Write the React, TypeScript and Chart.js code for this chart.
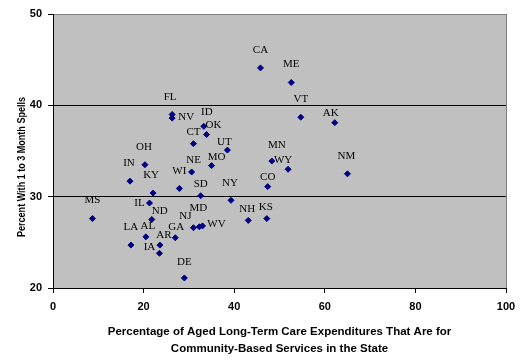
import React, { useEffect, useRef } from 'react';
import { Chart, registerables } from 'chart.js';

Chart.register(...registerables);

// ---- data ----
const states = [
  'CA', 'ME', 'VT', 'AK', 'FL', 'NV', 'ID', 'OK', 'CT', 'UT', 'MN', 'WY',
  'NM', 'CO', 'NY', 'NH', 'KS', 'OH', 'IN', 'KY', 'WI', 'NE', 'MO', 'SD',
  'IL', 'MS', 'ND', 'NJ', 'MD', 'WV', 'LA', 'AL', 'AR', 'GA', 'IA', 'DE',
];
const communityShare = [
  45.8, 52.6, 54.7, 62.2, 26.3, 26.3, 33.3, 33.9, 31.0, 38.5, 48.3, 51.9,
  65.0, 47.4, 39.3, 43.1, 47.2, 20.3, 17.0, 22.1, 27.9, 30.6, 35.0, 32.6,
  21.3, 8.7, 21.8, 31.0, 32.3, 33.0, 17.2, 20.5, 23.6, 27.0, 23.5, 29.0,
];
const shortSpellPercent = [
  44.1, 42.5, 38.7, 38.1, 39.0, 38.6, 37.7, 36.8, 35.8, 35.1, 33.9, 33.0,
  32.5, 31.1, 29.6, 27.4, 27.6, 33.5, 31.7, 30.4, 30.9, 32.7, 33.4, 30.1,
  29.3, 27.6, 27.5, 26.6, 26.7, 26.8, 24.7, 25.6, 24.7, 25.5, 23.8, 21.1,
];
const xTickValues = [0, 20, 40, 60, 80, 100];
const yTickValues = [20, 30, 40, 50];
const xTitle = [
  'Percentage of Aged Long-Term Care Expenditures That Are for',
  'Community-Based Services in the State',
];
const yTitle = 'Percent With 1 to 3 Month Spells';

// ---- label placement (pixel offsets of each state label from its marker) ----
const labelOffsets: Record<string, [number, number]> = {
  CA: [0, -18], ME: [0, -18], VT: [0, -18], AK: [-4, -10], FL: [-2, -17],
  NV: [14, -1], ID: [3, -14], OK: [7, -9], CT: [0, -12], UT: [-3, -8],
  MN: [5, -16], WY: [-5, -9], NM: [-1, -18], CO: [0, -10], NY: [-1, -17],
  NH: [-1, -11], KS: [-1, -11], OH: [-1, -18], IN: [-1, -18], KY: [-2, -18],
  WI: [0, -17], NE: [2, -12], MO: [5, -9], SD: [0, -12], IL: [-10, 0],
  MS: [0, -18], ND: [8, -8], NJ: [-8, -12], MD: [-1, -19], WV: [14, -2],
  LA: [0, -18], AL: [2, -11], AR: [4, -10], GA: [1, -11], IA: [-10, -6],
  DE: [0, -16],
};

const SANS = "'Liberation Sans Narrow', 'Arial Narrow', 'Liberation Sans', Arial, sans-serif";
const SERIF = "'Liberation Serif', 'Times New Roman', serif";

const backgroundPlugin = {
  id: 'bgFill',
  beforeDraw(chart: any) {
    const { ctx, chartArea, width, height } = chart;
    ctx.save();
    ctx.fillStyle = '#ffffff';
    ctx.fillRect(0, 0, width, height);
    ctx.fillStyle = '#c0c0c0';
    ctx.fillRect(chartArea.left, chartArea.top, chartArea.right - chartArea.left, chartArea.bottom - chartArea.top);
    ctx.restore();
  },
};

const pointLabelPlugin = {
  id: 'pointLabels',
  afterDatasetsDraw(chart: any) {
    const { ctx } = chart;
    const meta = chart.getDatasetMeta(0);
    ctx.save();
    ctx.font = `11px ${SERIF}`;
    ctx.fillStyle = '#000000';
    ctx.textAlign = 'center';
    ctx.textBaseline = 'middle';
    meta.data.forEach((el: any, i: number) => {
      const name = states[i];
      const [dx, dy] = labelOffsets[name] || [0, -16];
      ctx.fillText(name, el.x + dx, el.y + dy);
    });
    ctx.restore();
  },
};

const yTitlePlugin = {
  id: 'yTitle',
  afterDraw(chart: any) {
    const { ctx } = chart;
    ctx.save();
    ctx.translate(22, 167);
    ctx.rotate(-Math.PI / 2);
    ctx.font = `bold 11px ${SANS}`;
    const w = ctx.measureText(yTitle).width;
    const sx = w > 140 ? 140 / w : 1;
    ctx.scale(sx, 1);
    ctx.fillStyle = '#000000';
    ctx.textAlign = 'center';
    ctx.textBaseline = 'middle';
    ctx.fillText(yTitle, 0, 0);
    ctx.restore();
  },
};

export default function App() {
  const canvasRef = useRef<HTMLCanvasElement | null>(null);

  useEffect(() => {
    if (!canvasRef.current) return;
    const points = states.map((_, i) => ({ x: communityShare[i], y: shortSpellPercent[i] }));
    const chart = new Chart(canvasRef.current, {
      type: 'scatter',
      data: {
        datasets: [
          {
            label: 'States',
            data: points,
            pointStyle: 'rectRot',
            pointRadius: 3,
            pointBorderWidth: 1,
            backgroundColor: '#000080',
            borderColor: '#000080',
          },
        ],
      },
      options: {
        responsive: false,
        animation: false,
        devicePixelRatio: 1,
        layout: { padding: { top: 14, right: 20, left: 0, bottom: 0 } },
        plugins: {
          legend: { display: false },
          tooltip: { enabled: false },
        },
        scales: {
          x: {
            type: 'linear',
            min: 0,
            max: 100,
            afterBuildTicks: (scale: any) => {
              scale.ticks = xTickValues.map((v) => ({ value: v }));
            },
            afterFit: (scale: any) => {
              scale.height = 74;
            },
            ticks: {
              color: '#000000',
              padding: 7,
              font: { family: SANS, size: 11, weight: 'bold' },
            },
            grid: {
              color: (c: any) => (c.tick && c.tick.value === 100 ? '#808080' : 'rgba(0,0,0,0)'),
              tickColor: '#000000',
              tickLength: 5,
            },
            border: { color: '#000000', width: 1 },
            title: {
              display: true,
              text: xTitle,
              color: '#000000',
              font: { family: SANS, size: 11.5, weight: 'bold', lineHeight: 1.45 },
              padding: { top: 0, bottom: 5 },
            },
          },
          y: {
            type: 'linear',
            min: 20,
            max: 50,
            afterBuildTicks: (scale: any) => {
              scale.ticks = yTickValues.map((v) => ({ value: v }));
            },
            afterFit: (scale: any) => {
              scale.width = 53;
            },
            ticks: {
              color: '#000000',
              padding: 6,
              font: { family: SANS, size: 11, weight: 'bold' },
            },
            grid: {
              color: (c: any) => {
                const v = c.tick ? c.tick.value : null;
                if (v === 30 || v === 40) return '#000000';
                if (v === 50) return '#808080';
                return 'rgba(0,0,0,0)';
              },
              tickColor: '#000000',
              tickLength: 5,
            },
            border: { color: '#000000', width: 1 },
          },
        },
      },
      plugins: [backgroundPlugin, pointLabelPlugin, yTitlePlugin],
    } as any);
    return () => chart.destroy();
  }, []);

  return (
    <div style={{ position: 'fixed', left: 0, top: 0, width: 526, height: 362, background: '#ffffff' }}>
      <canvas ref={canvasRef} width={526} height={362} style={{ display: 'block', width: 526, height: 362 }} />
    </div>
  );
}
